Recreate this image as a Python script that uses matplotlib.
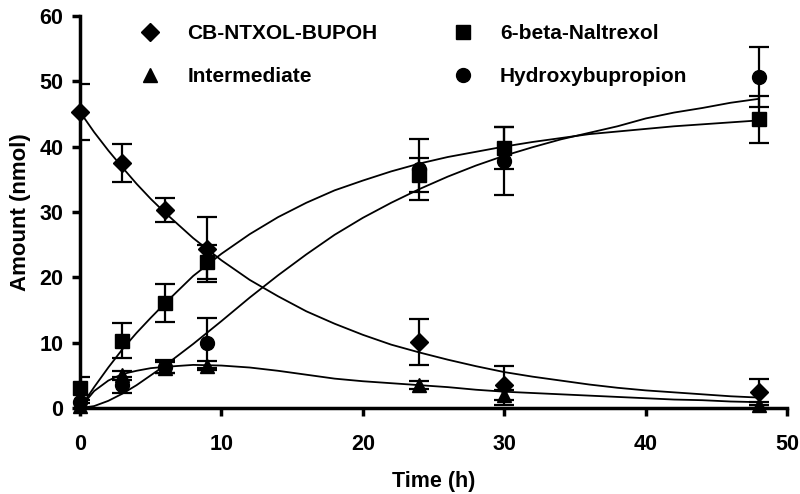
import matplotlib
matplotlib.use("Agg")
import matplotlib.pyplot as plt

plt.rcParams["font.family"] = ["Liberation Sans", "DejaVu Sans"]
plt.rcParams["font.weight"] = "bold"

# measured points
time = [0, 3, 6, 9, 24, 30, 48]
parent = [45.3, 37.5, 30.3, 24.3, 10.1, 3.5, 2.5]
parent_err = [4.3, 2.9, 1.9, 5.0, 3.5, 3.0, 2.0]
naltrexol = [3.0, 10.3, 16.1, 22.3, 35.7, 39.8, 44.2]
naltrexol_err = [1.8, 2.7, 2.9, 2.6, 2.6, 3.2, 3.6]
intermediate = [0.3, 5.0, 6.2, 6.5, 3.5, 2.0, 0.5]
intermediate_err = [0.5, 0.7, 0.8, 0.7, 0.6, 0.8, 0.5]
hydroxy = [1.0, 3.5, 6.3, 10.0, 36.5, 37.8, 50.6]
hydroxy_err = [1.0, 1.2, 1.0, 3.8, 4.7, 5.2, 4.6]

# fitted curves
fit_t = [0, 1, 2, 3, 4, 5, 6, 8, 10, 12, 14, 16, 18, 20, 22, 24, 26, 28,
         30, 32, 34, 36, 38, 40, 42, 44, 46, 48]
fit_parent = [45.3, 42.2, 39.4, 36.8, 34.3, 32.0, 29.9, 26.0, 22.6, 19.6,
              17.1, 14.8, 12.9, 11.2, 9.7, 8.5, 7.4, 6.4, 5.5, 4.8, 4.2,
              3.6, 3.1, 2.7, 2.4, 2.1, 1.8, 1.6]
fit_naltrexol = [0.0, 3.2, 6.2, 9.0, 11.5, 13.8, 16.0, 20.2, 23.6, 26.6,
                 29.2, 31.4, 33.3, 34.8, 36.2, 37.4, 38.4, 39.2, 40.0, 40.7,
                 41.3, 41.9, 42.3, 42.7, 43.1, 43.4, 43.7, 44.0]
fit_intermediate = [0.0, 2.6, 4.2, 5.2, 5.7, 6.1, 6.3, 6.6, 6.5, 6.2, 5.7,
                    5.1, 4.5, 4.1, 3.8, 3.5, 3.2, 2.8, 2.5, 2.3, 2.1, 1.9,
                    1.7, 1.5, 1.3, 1.2, 1.0, 0.9]
fit_hydroxy = [0.0, 0.3, 1.1, 2.2, 3.5, 5.0, 6.5, 9.8, 13.3, 16.9, 20.3,
               23.5, 26.5, 29.1, 31.4, 33.5, 35.4, 37.1, 38.6, 39.9, 41.1,
               42.1, 43.1, 44.3, 45.2, 45.9, 46.7, 47.3]

labels = ["CB-NTXOL-BUPOH", "Intermediate", "6-beta-Naltrexol", "Hydroxybupropion"]
markers = ["D", "^", "s", "o"]
sizes = [9, 10, 10, 10]
data = [(parent, parent_err, fit_parent),
        (intermediate, intermediate_err, fit_intermediate),
        (naltrexol, naltrexol_err, fit_naltrexol),
        (hydroxy, hydroxy_err, fit_hydroxy)]

fig = plt.figure(figsize=(8, 4.94), dpi=100)
ax = fig.add_axes([0.1, 0.174, 0.884, 0.794])

handles = []
for (y, err, fit), m, lab, ms in zip(data, markers, labels, sizes):
    ax.plot(fit_t, fit, color="black", lw=1.3, zorder=2)
    ax.errorbar(time, y, yerr=err, fmt="none", ecolor="black", elinewidth=1.6,
                capsize=7, capthick=1.6, zorder=3)
    h, = ax.plot(time, y, linestyle="none", marker=m, ms=ms, color="black",
                 label=lab, zorder=4, clip_on=False)
    handles.append(h)

ax.set_xlim(0, 50)
ax.set_ylim(0, 60)
ax.set_xticks(range(0, 51, 10))
ax.set_yticks(range(0, 61, 10))
for s in ["top", "right"]:
    ax.spines[s].set_visible(False)
for s in ["left", "bottom"]:
    ax.spines[s].set_linewidth(2.5)
ax.tick_params(width=2.5, length=6, labelsize=15.5)
ax.tick_params(axis="x", pad=13)
ax.tick_params(axis="y", pad=6)
for t in ax.get_xticklabels() + ax.get_yticklabels():
    t.set_fontweight("bold")

ax.set_xlabel("Time (h)", fontsize=15.5, fontweight="bold", labelpad=11)
ax.set_ylabel("Amount (nmol)", fontsize=16, fontweight="bold", labelpad=6)

ax.legend(handles=handles, ncol=2, loc="upper left", bbox_to_anchor=(0.055, 1.027),
          frameon=False, handlelength=1.2, handletextpad=1.18,
          columnspacing=3.5, labelspacing=1.15, prop={"weight": "bold", "size": 15})

fig.savefig("out.png", dpi=100)
